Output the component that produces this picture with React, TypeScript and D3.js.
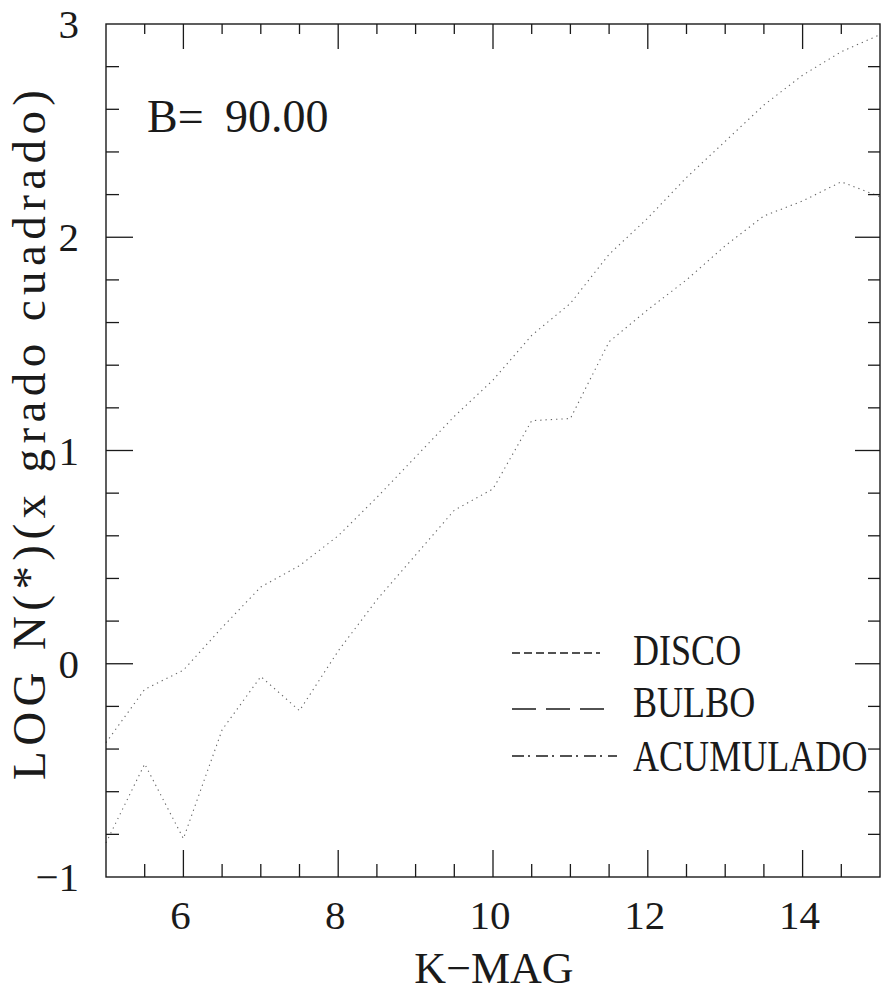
import React from "react";
import * as d3 from "d3";

// K magnitude bins
const kMag = [5, 5.5, 6, 6.5, 7, 7.5, 8, 8.5, 9, 9.5, 10, 10.5, 11, 11.5, 12, 12.5, 13, 13.5, 14, 14.5, 15];

// log N per square degree
const acumulado = [-0.37, -0.12, -0.03, 0.17, 0.36, 0.46, 0.6, 0.78, 0.97, 1.16, 1.33, 1.54, 1.69, 1.92, 2.09, 2.28, 2.45, 2.62, 2.76, 2.87, 2.95];
const disco = [-0.84, -0.47, -0.82, -0.31, -0.06, -0.22, 0.06, 0.3, 0.51, 0.72, 0.82, 1.14, 1.15, 1.51, 1.66, 1.8, 1.96, 2.1, 2.17, 2.26, 2.19];

const xTickLabels = [6, 8, 10, 12, 14];
const yTickLabels = [-1, 0, 1, 2, 3];
const legendItems = ["DISCO", "BULBO", "ACUMULADO"];
const legendDash = ["8,4", "24,10", "12,4,2,6"];

const W = 887;
const H = 995;
const FONT = '"Liberation Serif", "Times New Roman", Tinos, Times, serif';

export default function App() {
  const x = d3.scaleLinear().domain([5, 15]).range([106, 880]);
  const y = d3.scaleLinear().domain([-1, 3]).range([877, 24]);

  const line = d3
    .line<[number, number]>()
    .x((d) => x(d[0]))
    .y((d) => y(d[1]));

  const xTicks = d3.range(5.5, 15, 0.5);
  const yTicks = d3.range(-0.8, 3, 0.2).map((v) => Math.round(v * 10) / 10);

  const isLabeledX = (v: number) => xTickLabels.includes(v);
  const isLabeledY = (v: number) => Number.isInteger(v);

  const ink = "#1a1a1a";
  const textStyle = { fontFamily: FONT, fontWeight: 400 } as React.CSSProperties;

  return (
    <svg
      width={W}
      height={H}
      style={{ position: "absolute", left: 0, top: 0, background: "#fff" }}
    >
      {/* curves */}
      <path
        d={line(kMag.map((k, i) => [k, acumulado[i]]) as [number, number][]) || ""}
        fill="none"
        stroke="#666"
        strokeWidth={1.1}
        strokeDasharray="1.3,4"
      />
      <path
        d={line(kMag.map((k, i) => [k, disco[i]]) as [number, number][]) || ""}
        fill="none"
        stroke="#666"
        strokeWidth={1.1}
        strokeDasharray="1.3,4"
      />

      {/* frame */}
      <rect
        x={x(5)}
        y={y(3)}
        width={x(15) - x(5)}
        height={y(-1) - y(3)}
        fill="none"
        stroke={ink}
        strokeWidth={1.4}
      />

      {/* x ticks, bottom and top */}
      {xTicks.map((v) => {
        const long = isLabeledX(v);
        return (
          <g key={"xt" + v} stroke={ink} strokeWidth={1.3}>
            <line x1={x(v)} x2={x(v)} y1={y(-1)} y2={y(-1) - (long ? 27 : 13)} />
            <line x1={x(v)} x2={x(v)} y1={y(3)} y2={y(3) + (long ? 25 : 10)} />
          </g>
        );
      })}

      {/* y ticks, left and right */}
      {yTicks.map((v) => {
        const long = isLabeledY(v);
        return (
          <g key={"yt" + v} stroke={ink} strokeWidth={1.3}>
            <line x1={x(5)} x2={x(5) + (long ? 27 : 13)} y1={y(v)} y2={y(v)} />
            <line x1={x(15)} x2={x(15) - (long ? 25 : 12)} y1={y(v)} y2={y(v)} />
          </g>
        );
      })}

      {/* x tick labels */}
      {xTickLabels.map((v) => (
        <text
          key={"xl" + v}
          x={x(v) - 3}
          y={929}
          fontSize={41}
          textAnchor="middle"
          fill={ink}
          style={textStyle}
        >
          {v}
        </text>
      ))}

      {/* y tick labels */}
      {yTickLabels.map((v) => (
        <text
          key={"yl" + v}
          x={79}
          y={y(v) + 14}
          fontSize={41}
          textAnchor="end"
          fill={ink}
          style={textStyle}
        >
          {v < 0 ? "\u2212" + Math.abs(v) : v}
        </text>
      ))}

      {/* axis titles */}
      <text x={494} y={983} fontSize={44} textAnchor="middle" fill={ink} style={textStyle}>
        K{"\u2212"}MAG
      </text>
      <text
        transform={`translate(45, 435) rotate(-90)`}
        fontSize={47}
        textAnchor="middle"
        fill={ink}
        style={textStyle}
        textLength={690}
        lengthAdjust="spacing"
      >
        LOG N(*)(x grado cuadrado)
      </text>

      {/* latitude annotation */}
      <text x={147} y={132} fontSize={46} fill={ink} style={textStyle}>
        B=
      </text>
      <text x={225} y={132} fontSize={46} fill={ink} style={textStyle}>
        90.00
      </text>

      {/* legend: condensed labels */}
      {legendItems.map((name, i) => {
        const base = [665, 717, 771][i];
        const ly = [653, 709, 756][i];
        const lx2 = [600, 605, 617][i];
        return (
          <g key={name}>
            <line x1={512} x2={lx2} y1={ly} y2={ly} stroke={ink} strokeWidth={1.6} strokeDasharray={legendDash[i]} />
            <text
              transform={`translate(633, ${base}) scale(0.82, 1)`}
              fontSize={44}
              fill={ink}
              style={textStyle}
            >
              {name}
            </text>
          </g>
        );
      })}
    </svg>
  );
}
